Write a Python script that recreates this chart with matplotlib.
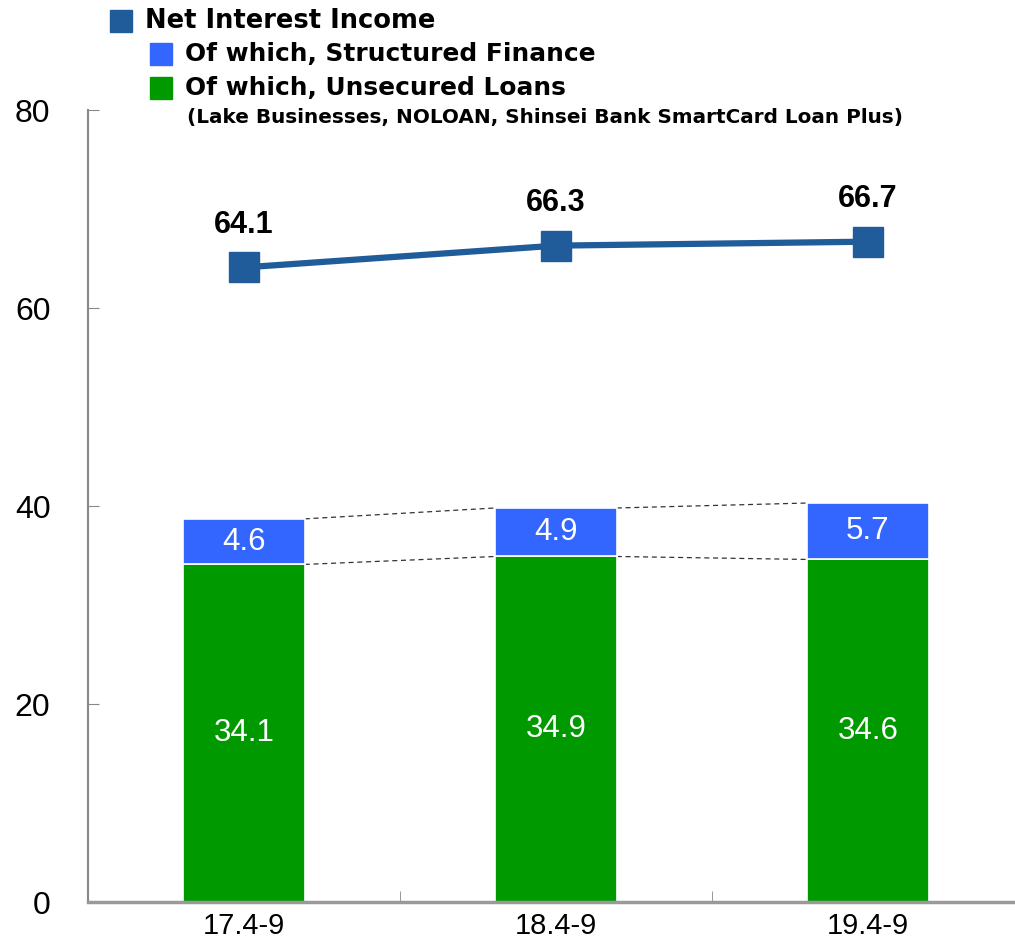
import numpy as np
import matplotlib.pyplot as plt
from matplotlib.patches import Rectangle

# data
periods = ["17.4-9", "18.4-9", "19.4-9"]
unsecured = [34.1, 34.9, 34.6]
structured = [4.6, 4.9, 5.7]
net_interest = [64.1, 66.3, 66.7]

c_line = "#1F5C99"
c_blue = "#3366FF"
c_green = "#009900"
num_font = "Liberation Sans"
leg_font = "DejaVu Sans"

fig = plt.figure(figsize=(10.15, 9.42), dpi=100)
ax = fig.add_axes([88 / 1015, 1 - 902 / 942, 936 / 1015, 792 / 942])

x = np.arange(len(periods))
w = 0.39
unsecured = np.array(unsecured)
structured = np.array(structured)
tops = unsecured + structured

ax.bar(x, unsecured, w, color=c_green, edgecolor="white", linewidth=1.2, zorder=2)
ax.bar(x, structured, w, bottom=unsecured, color=c_blue, edgecolor="white", linewidth=1.2, zorder=2)

# dashed connectors between bars
for i in range(len(x) - 1):
    ax.plot([x[i] + w / 2, x[i + 1] - w / 2], [tops[i], tops[i + 1]],
            ls=(0, (4, 3)), color="#333333", lw=0.9, zorder=1)
    ax.plot([x[i] + w / 2, x[i + 1] - w / 2], [unsecured[i], unsecured[i + 1]],
            ls=(0, (4, 3)), color="#333333", lw=0.9, zorder=1)

# bar labels
for i in range(len(x)):
    ax.text(x[i], unsecured[i] / 2, f"{unsecured[i]:.1f}", ha="center", va="center",
            color="white", fontsize=22.5, family=num_font, zorder=3)
    ax.text(x[i], unsecured[i] + structured[i] / 2, f"{structured[i]:.1f}", ha="center",
            va="center", color="white", fontsize=22.5, family=num_font, zorder=3)

# line
ax.plot(x, net_interest, color=c_line, lw=4.5, marker="s", markersize=21, zorder=4)
for i in range(len(x)):
    ax.annotate(f"{net_interest[i]:.1f}", (x[i], net_interest[i]), xytext=(0, 20),
                textcoords="offset points", ha="center", va="bottom",
                fontsize=22, fontweight="bold", family=num_font)

ax.set_xlim(-0.5, 2.5)
ax.set_ylim(0, 80)
ax.set_yticks([0, 20, 40, 60, 80])
ax.set_xticks(x)
ax.set_xticklabels(periods)
ax.set_xticks([0.5, 1.5], minor=True)
ax.tick_params(axis="x", which="major", length=0, pad=7, labelsize=21)
ax.tick_params(axis="x", which="minor", length=8, direction="in", color="#888888")
ax.tick_params(axis="y", length=8, direction="in", color="#888888", pad=27, labelsize=23)
for lab in ax.get_xticklabels() + ax.get_yticklabels():
    lab.set_family(num_font)
for sp in ["top", "right"]:
    ax.spines[sp].set_visible(False)
ax.spines["left"].set_color("#888888")
ax.spines["bottom"].set_color("#999999")
ax.spines["left"].set_linewidth(1.5)
ax.spines["bottom"].set_linewidth(2.5)

# legend
def fx(px):
    return px / 1015

def fy(py):
    return 1 - py / 942

legend_items = [
    ("Net Interest Income", c_line, 110, 21, 18.5),
    ("Of which, Structured Finance", c_blue, 150, 54, 17.9),
    ("Of which, Unsecured Loans", c_green, 150, 88, 17.9),
]
for label, col, px, py, fs in legend_items:
    fig.patches.append(Rectangle((fx(px), fy(py + 11)), 22 / 1015, 22 / 942,
                                 transform=fig.transFigure, color=col))
    fig.text(fx(px + 35), fy(py), label, fontsize=fs, fontweight="bold",
             family=leg_font, va="center", ha="left")
fig.text(fx(187), fy(118), "(Lake Businesses, NOLOAN, Shinsei Bank SmartCard Loan Plus)",
         fontsize=14.4, fontweight="bold", family=leg_font, va="center", ha="left")

fig.savefig("out.png", dpi=100)
